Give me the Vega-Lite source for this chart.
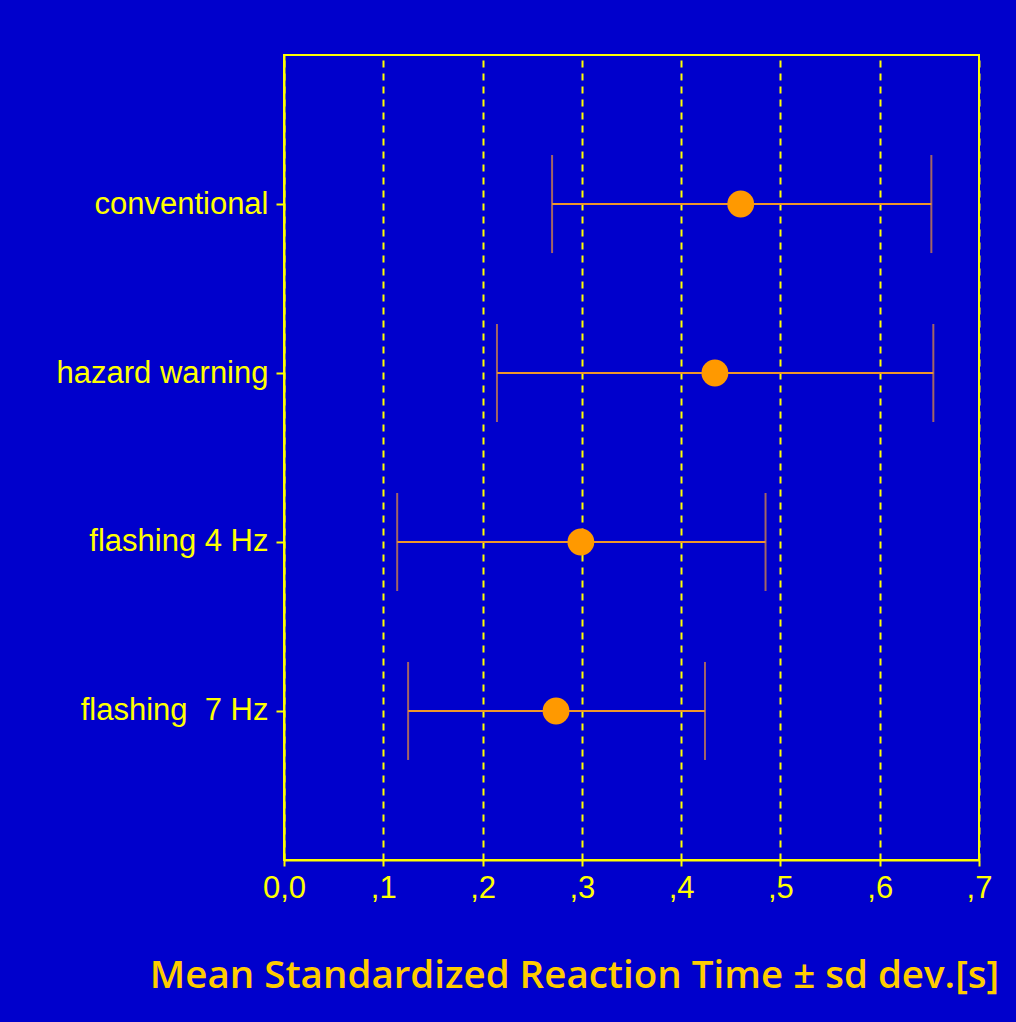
{
  "$schema": "https://vega.github.io/schema/vega-lite/v6.json",
  "autosize": "none",
  "width": 695,
  "height": 805,
  "padding": {"left": 284, "top": 55, "right": 37, "bottom": 162},
  "background": "#0000CC",
  "config": {
    "view": {"stroke": "#FFFF00", "strokeWidth": 2},
    "font": "Liberation Sans"
  },
  "data": {
    "values": [
      {"condition": "conventional", "mean": 0.460, "lo": 0.270, "hi": 0.652},
      {"condition": "hazard warning", "mean": 0.434, "lo": 0.2145, "hi": 0.654},
      {"condition": "flashing 4 Hz", "mean": 0.299, "lo": 0.114, "hi": 0.485},
      {"condition": "flashing \u00a07 Hz", "mean": 0.274, "lo": 0.125, "hi": 0.424}
    ]
  },
  "encoding": {
    "y": {
      "field": "condition",
      "type": "ordinal",
      "sort": ["conventional", "hazard warning", "flashing 4 Hz", "flashing \u00a07 Hz"],
      "scale": {"type": "point", "padding": 0.882},
      "axis": {
        "title": null,
        "domainColor": "#FFFF00",
        "domainWidth": 2,
        "tickColor": "#FFFF00",
        "tickSize": 8,
        "tickWidth": 2,
        "labelColor": "#FFFF00",
        "labelFont": "Liberation Sans",
        "labelFontSize": 31,
        "labelPadding": 8,
        "labelLimit": 400,
        "grid": false
      }
    }
  },
  "layer": [
    {
      "mark": {"type": "rule", "color": "#F0962A", "strokeWidth": 2},
      "encoding": {
        "x": {
          "field": "lo",
          "type": "quantitative",
          "scale": {"domain": [0, 0.7], "nice": false, "zero": false},
          "axis": {
            "values": [0, 0.1, 0.2, 0.3, 0.4, 0.5, 0.6, 0.7],
            "labelExpr": "datum.value == 0 ? '0,0' : ',' + round(datum.value * 10)",
            "labelColor": "#FFFF00",
            "labelFont": "Liberation Sans",
            "labelFontSize": 31,
            "labelPadding": 7,
            "labelFlush": false,
            "domainColor": "#FFFF00",
            "domainWidth": 2,
            "tickColor": "#FFFF00",
            "tickSize": 6,
            "tickWidth": 2,
            "grid": true,
            "gridColor": "#FFFF00",
            "gridDash": [7, 6],
            "gridWidth": 2,
            "gridOpacity": 1,
            "title": "Mean Standardized Reaction Time \u00b1 sd dev.[s]",
            "titleColor": "#FFCC00",
            "titleFont": "Open Sans",
            "titleFontWeight": 600,
            "titleFontSize": 38.5,
            "titleX": 290,
            "titleY": 115,
            "titleAlign": "center",
            "titleBaseline": "middle"
          }
        },
        "x2": {"field": "hi"}
      }
    },
    {
      "mark": {"type": "tick", "color": "#E8903A", "size": 98, "thickness": 2, "orient": "vertical"},
      "encoding": {"x": {"field": "lo", "type": "quantitative"}}
    },
    {
      "mark": {"type": "tick", "color": "#E8903A", "size": 98, "thickness": 2, "orient": "vertical"},
      "encoding": {"x": {"field": "hi", "type": "quantitative"}}
    },
    {
      "mark": {"type": "point", "shape": "circle", "filled": true, "color": "#FF9900", "opacity": 1, "size": 720},
      "encoding": {"x": {"field": "mean", "type": "quantitative"}}
    }
  ]
}
